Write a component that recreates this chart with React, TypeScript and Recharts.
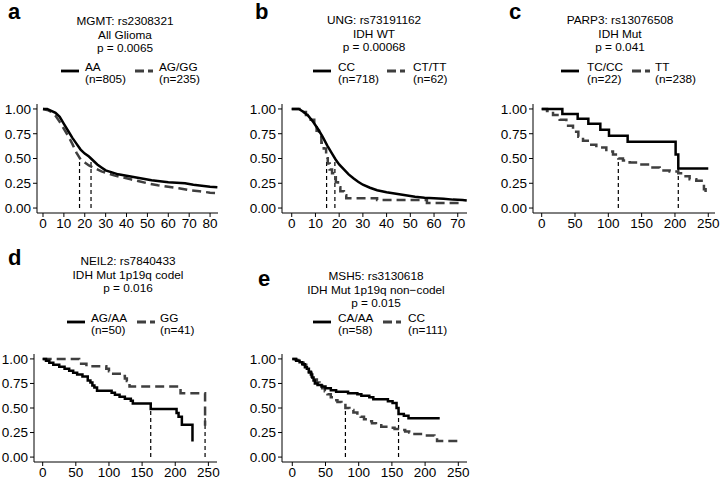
import React from "react";
import { LineChart, Line, XAxis, YAxis } from "recharts";

type Pt = { t: number; s: number };
const toPts = (rows: number[][]): Pt[] => rows.map(([t, s]) => ({ t, s }));

// survival curves, [time, survival]
const mgmtAA = toPts([
  [0, 1], [2, 1], [4, 0.98], [6, 0.96], [8, 0.92], [10, 0.85], [12, 0.78], [14, 0.71],
  [16, 0.65], [18, 0.59], [20, 0.55], [22, 0.52], [24, 0.48], [26, 0.44], [28, 0.41],
  [30, 0.38], [33, 0.36], [36, 0.34], [40, 0.325], [44, 0.31], [48, 0.295], [52, 0.28],
  [56, 0.27], [60, 0.26], [64, 0.255], [68, 0.25], [72, 0.235], [76, 0.225], [80, 0.215], [83.5, 0.21],
]);
const mgmtAGGG = toPts([
  [0, 1], [2, 0.99], [4, 0.97], [6, 0.93], [8, 0.87], [10, 0.8], [12, 0.73], [14, 0.65],
  [16, 0.56], [18, 0.49], [20, 0.46], [22, 0.43], [24, 0.41], [26, 0.39], [28, 0.37],
  [31, 0.35], [34, 0.33], [38, 0.31], [42, 0.29], [46, 0.27], [50, 0.25], [55, 0.23],
  [60, 0.215], [65, 0.2], [70, 0.18], [75, 0.17], [80, 0.155], [83.5, 0.15],
]);
const mgmtMedians = [17.5, 23];

const ungCC = toPts([
  [0, 1], [3, 1], [5, 0.97], [7, 0.93], [9, 0.87], [11, 0.8], [13, 0.72], [15, 0.63],
  [17, 0.55], [18.5, 0.49], [20, 0.44], [22, 0.39], [24, 0.34], [26, 0.3], [28, 0.265],
  [30, 0.235], [33, 0.205], [36, 0.18], [40, 0.16], [44, 0.145], [48, 0.13], [52, 0.115],
  [56, 0.105], [60, 0.1], [64, 0.095], [68, 0.085], [72, 0.08], [73.8, 0.075],
]);
const ungCTTT = toPts([
  [0, 1], [3, 1], [4, 0.97], [6, 0.94], [8, 0.89], [9.5, 0.84], [10.5, 0.78], [11.5, 0.72],
  [12.5, 0.66], [13.5, 0.6], [14.5, 0.52], [15.2, 0.45], [16, 0.39], [17, 0.35], [18, 0.31],
  [18.6, 0.26], [19.5, 0.21], [20.5, 0.17], [22, 0.13], [23, 0.1], [36, 0.08], [57, 0.05], [72, 0.04],
]);
const ungMedians = [14.7, 18.2];

const parpTCCC = toPts([
  [0, 1], [31, 0.95], [54, 0.9], [70, 0.85], [88, 0.79], [101, 0.73], [129, 0.67],
  [201, 0.54], [205, 0.4], [250, 0.4],
]);
const parpTT = toPts([
  [0, 1], [8, 0.98], [17, 0.94], [27, 0.89], [37, 0.83], [47, 0.77], [55, 0.72], [62, 0.68],
  [72, 0.64], [82, 0.61], [97, 0.57], [107, 0.54], [115, 0.5], [122, 0.48], [132, 0.46],
  [147, 0.44], [162, 0.41], [177, 0.38], [192, 0.37], [205, 0.35], [212, 0.32], [222, 0.29],
  [232, 0.275], [243, 0.275], [243.5, 0.19], [246, 0.12],
]);
const parpMedians = [115, 205];

const neilAGAA = toPts([
  [0, 1], [5, 0.98], [10, 0.96], [16, 0.94], [25, 0.92], [33, 0.9], [40, 0.88], [46, 0.86],
  [52, 0.84], [60, 0.82], [68, 0.78], [72, 0.76], [75, 0.73], [78, 0.71], [82, 0.675],
  [104, 0.655], [109, 0.635], [116, 0.615], [124, 0.595], [133, 0.575], [136, 0.545],
  [163, 0.49], [202, 0.45], [205, 0.41], [210, 0.33], [226, 0.16],
]);
const neilGG = toPts([
  [0, 1], [55, 0.975], [58, 0.95], [66, 0.925], [96, 0.9], [100, 0.875], [104, 0.85],
  [120, 0.825], [124, 0.8], [127, 0.775], [129, 0.75], [131, 0.72], [208, 0.65], [245, 0.32],
]);
const neilMedians = [163, 245];

const mshCAAA = toPts([
  [0, 1], [6, 0.98], [11, 0.965], [15, 0.945], [19, 0.915], [22, 0.9], [25, 0.87], [28, 0.84],
  [30, 0.81], [32, 0.78], [34, 0.75], [38, 0.735], [44, 0.72], [50, 0.7], [58, 0.68],
  [66, 0.665], [84, 0.65], [98, 0.64], [104, 0.625], [116, 0.61], [122, 0.59], [144, 0.57],
  [151, 0.55], [157, 0.5], [160, 0.44], [168, 0.42], [175, 0.395], [222, 0.395],
]);
const mshCC = toPts([
  [0, 1], [5, 0.99], [9, 0.98], [13, 0.96], [17, 0.94], [21, 0.9], [25, 0.86], [29, 0.82],
  [33, 0.79], [37, 0.76], [41, 0.73], [45, 0.7], [49, 0.67], [53, 0.64], [58, 0.61],
  [63, 0.58], [68, 0.56], [74, 0.53], [80, 0.5], [86, 0.48], [92, 0.455], [98, 0.43],
  [103, 0.41], [108, 0.385], [114, 0.365], [120, 0.345], [126, 0.325], [134, 0.31],
  [144, 0.3], [154, 0.285], [164, 0.275], [170, 0.26], [176, 0.25], [184, 0.235],
  [200, 0.22], [214, 0.2], [218, 0.165], [252, 0.165],
]);
const mshMedians = [80, 160];

const shortTicks = [0, 10, 20, 30, 40, 50, 60, 70, 80];
const ungTicks = [0, 10, 20, 30, 40, 50, 60, 70];
const longTicks = [0, 50, 100, 150, 200, 250];
const yTicks = [0, 0.25, 0.5, 0.75, 1];

const FONT = '"Liberation Sans", Arial, Helvetica, sans-serif';
const GREY = "#3f3f3f";

type CurveKind = "stepAfter" | "linear";

const panels = [
  {
    letter: "a", letterPos: [8, 1],
    title: ["MGMT: rs2308321", "All Glioma", "p = 0.0065"], titleCx: 125, titleY: 22,
    groups: ["AA", "AG/GG"], counts: ["(n=805)", "(n=235)"], legendY: 67, keys: [[61, 85], [135, 159]],
    plotLeft: 37, plotW: 181, plotTop: 104, plotH: 109, domain: [-2.87, 83.8], xTicks: shortTicks,
    s1: mgmtAA, s2: mgmtAGGG, medians: mgmtMedians, kinds: ["linear", "linear"] as CurveKind[],
  },
  {
    letter: "b", letterPos: [255, 1],
    title: ["UNG: rs73191162", "IDH WT", "p = 0.00068"], titleCx: 374, titleY: 21,
    groups: ["CC", "CT/TT"], counts: ["(n=718)", "(n=62)"], legendY: 67, keys: [[313, 338], [387, 413]],
    plotLeft: 282, plotW: 185, plotTop: 104, plotH: 109, domain: [-4.1, 73.9], xTicks: ungTicks,
    s1: ungCC, s2: ungCTTT, medians: ungMedians, kinds: ["linear", "stepAfter"] as CurveKind[],
  },
  {
    letter: "c", letterPos: [509, 1],
    title: ["PARP3: rs13076508", "IDH Mut", "p = 0.041"], titleCx: 620, titleY: 21,
    groups: ["TC/CC", "TT"], counts: ["(n=22)", "(n=238)"], legendY: 67, keys: [[561, 587], [632, 655]],
    plotLeft: 533, plotW: 182, plotTop: 104, plotH: 109, domain: [-13.05, 260.1], xTicks: longTicks,
    s1: parpTCCC, s2: parpTT, medians: parpMedians, kinds: ["stepAfter", "stepAfter"] as CurveKind[],
  },
  {
    letter: "d", letterPos: [8, 247],
    title: ["NEIL2: rs7840433", "IDH Mut 1p19q codel", "p = 0.016"], titleCx: 128, titleY: 262,
    groups: ["AG/AA", "GG"], counts: ["(n=50)", "(n=41)"], legendY: 318, keys: [[67, 91], [137, 160]],
    plotLeft: 34, plotW: 183, plotTop: 354, plotH: 108, domain: [-13.1, 263], xTicks: longTicks,
    s1: neilAGAA, s2: neilGG, medians: neilMedians, kinds: ["stepAfter", "stepAfter"] as CurveKind[],
  },
  {
    letter: "e", letterPos: [258, 268],
    title: ["MSH5: rs3130618", "IDH Mut 1p19q non\u2212codel", "p = 0.015"], titleCx: 376, titleY: 277,
    groups: ["CA/AA", "CC"], counts: ["(n=58)", "(n=111)"], legendY: 318, keys: [[313, 338], [383, 408]],
    plotLeft: 282, plotW: 185, plotTop: 354, plotH: 108, domain: [-15.5, 263.1], xTicks: longTicks,
    s1: mshCAAA, s2: mshCC, medians: mshMedians, kinds: ["stepAfter", "stepAfter"] as CurveKind[],
  },
];

const YW = 40;
const MT = 10;
const MR = 10;
const XH = 26;

function SurvPanel({ p }: { p: (typeof panels)[number] }) {
  const tickStyle = { fill: "#000", fontSize: 13.5, fontFamily: FONT };
  return (
    <>
      <div
        style={{
          position: "absolute", left: p.letterPos[0], top: p.letterPos[1],
          fontSize: 22, fontWeight: 700, lineHeight: 1, fontFamily: FONT,
        }}>
        {p.letter}
      </div>
      <div
        style={{
          position: "absolute", left: p.titleCx, top: p.titleY - 7, transform: "translateX(-50%)",
          fontSize: 11.8, lineHeight: "13.5px", textAlign: "center", whiteSpace: "nowrap", fontFamily: FONT,
        }}>
        {p.title.map((line) => (
          <div key={line}>{line}</div>
        ))}
      </div>
      {p.keys.map(([kx, tx], i) => (
        <React.Fragment key={i}>
          <svg
            style={{ position: "absolute", left: kx, top: p.legendY - 2 }}
            width={18} height={12}>
            <line
              x1={0} x2={18} y1={6} y2={6}
              stroke={i === 0 ? "#000" : GREY}
              strokeWidth={2.8}
              strokeDasharray={i === 0 ? undefined : "9 4"}
            />
          </svg>
          <div
            style={{
              position: "absolute", left: tx, top: p.legendY - 6.5,
              fontSize: 11.8, lineHeight: "12.5px", whiteSpace: "nowrap", fontFamily: FONT,
            }}>
            <div>{p.groups[i]}</div>
            <div>{p.counts[i]}</div>
          </div>
        </React.Fragment>
      ))}
      <div style={{ position: "absolute", left: p.plotLeft - YW, top: p.plotTop - MT }}>
        <LineChart
          width={YW + p.plotW + MR}
          height={MT + p.plotH + XH}
          margin={{ top: MT, right: MR, bottom: 0, left: 0 }}>
          <XAxis
            type="number" dataKey="t" domain={p.domain} ticks={p.xTicks} allowDataOverflow
            interval={0} height={XH} stroke="#000" tickSize={4} tickMargin={1} tick={tickStyle}
          />
          <YAxis
            type="number" dataKey="s" domain={[-0.05, 1.05]} ticks={yTicks} allowDataOverflow
            interval={0} width={YW} stroke="#000" tickSize={4} tickMargin={2} tick={tickStyle}
            tickFormatter={(v: number) => v.toFixed(2)}
          />
          {p.medians.map((m) => (
            <Line
              key={`m${m}`}
              data={[{ t: m, s: 0 }, { t: m, s: 0.5 }]}
              dataKey="s" type="linear" stroke="#000" strokeWidth={1.2}
              strokeDasharray="4 3" dot={false} isAnimationActive={false}
            />
          ))}
          <Line
            data={p.s2} dataKey="s" type={p.kinds[1]} stroke={GREY} strokeWidth={2.5}
            strokeDasharray="9 5" dot={false} isAnimationActive={false}
          />
          <Line
            data={p.s1} dataKey="s" type={p.kinds[0]} stroke="#000" strokeWidth={2.5}
            dot={false} isAnimationActive={false}
          />
        </LineChart>
      </div>
    </>
  );
}

export default function App() {
  return (
    <div
      style={{
        position: "absolute", left: 0, top: 0, width: 720, height: 480,
        background: "#fff", color: "#000", fontFamily: FONT, overflow: "hidden",
      }}>
      {panels.map((p) => (
        <SurvPanel key={p.letter} p={p} />
      ))}
    </div>
  );
}
